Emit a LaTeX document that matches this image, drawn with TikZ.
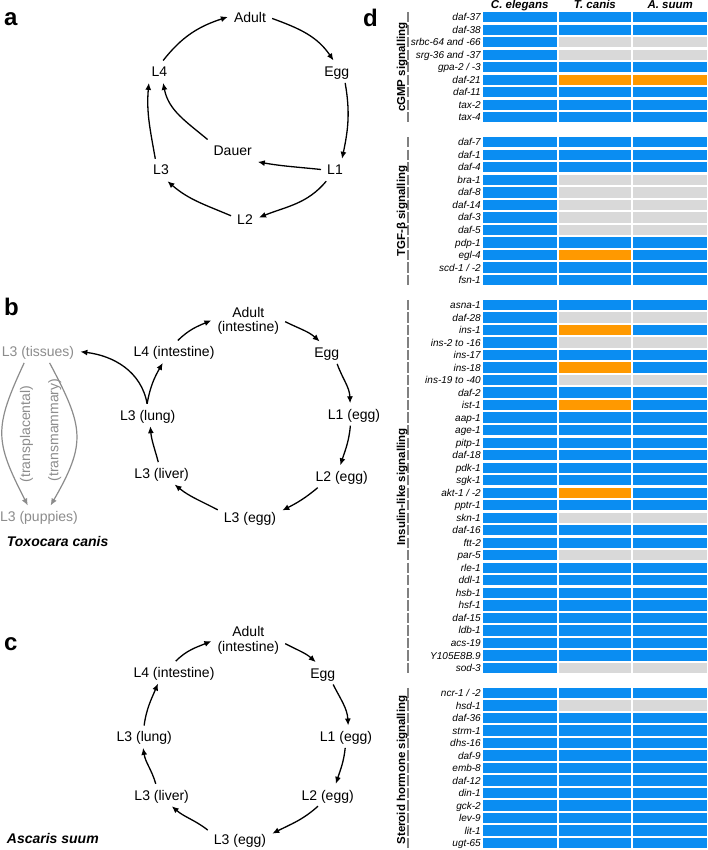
\documentclass[tikz,border=0pt]{standalone}
\usepackage{fontspec}
\setmainfont{Liberation Sans}
\usetikzlibrary{arrows.meta}
\definecolor{cB}{HTML}{0A8DF2}
\definecolor{cG}{HTML}{D9D9D9}
\definecolor{cO}{HTML}{FF9900}
\definecolor{gtxt}{HTML}{8C8C8C}
\definecolor{tickc}{HTML}{808080}
\newcommand\generow[4]{%
  \pgfmathsetmacro\rtop{12+12.515*#1}%
  \fill[cB] (482.7,\rtop) rectangle (556.7,\rtop+10.3);
  \fill[c#3] (559,\rtop) rectangle (630.7,\rtop+10.3);
  \fill[c#4] (633.3,\rtop) rectangle (707,\rtop+10.3);
  \draw[tickline] (408,\rtop) -- (408,\rtop+10.3);
  \node[gene] (g#1) at (481,\rtop+5.15) {#2};
}
\begin{document}
\begin{tikzpicture}[x=1pt,y=-1pt,
  stage/.style={font=\fontsize{14}{14.4}\selectfont, inner sep=6pt, text height=10pt, text depth=0pt},
  stagetwo/.style={font=\fontsize{14}{14.4}\selectfont, inner sep=6pt, align=center},
  arr/.style={line width=1.3pt, -{Latex[length=7pt,width=6pt]}},
  garr/.style={line width=1.2pt, gtxt, -{Latex[length=7pt,width=6pt]}, looseness=1.3},
  glab/.style={font=\fontsize{14}{14.4}\selectfont, text=gtxt, rotate=90, inner sep=0pt, text height=10pt, text depth=0pt},
  species/.style={font=\fontsize{14}{14.4}\selectfont\bfseries\itshape, anchor=west, inner sep=0pt, text height=10pt, text depth=0pt},
  panel/.style={font=\fontsize{24}{24}\selectfont\bfseries, anchor=base west, inner sep=0pt},
  gene/.style={anchor=east, inner sep=0pt, font=\fontsize{10}{12}\selectfont\itshape, text height=7.2pt, text depth=0pt},
  hdr/.style={anchor=base, inner sep=0pt, font=\fontsize{11.5}{12}\selectfont\bfseries\itshape},
  grp/.style={rotate=90, inner sep=0pt, font=\fontsize{11.5}{12}\selectfont\bfseries, text height=8.3pt, text depth=0pt},
  tickline/.style={tickc, line width=1.2pt}
]
\fill[white] (0,0) rectangle (707,850);
\useasboundingbox (0,0) rectangle (707,850);

% ---------- panel letters
\node[panel] (pa) at (4,26) {a};
\node[panel] (pb) at (4,315) {b};
\node[panel] (pc) at (4,650) {c};
\node[panel] (pd) at (363,26.5) {d};

% ---------- panel a
\node[stage] (A) at (250,17.3) {Adult};
\node[stage] (E) at (336.7,71.7) {Egg};
\node[stage] (L1) at (335,170) {L1};
\node[stage] (L2) at (245,219) {L2};
\node[stage] (L3) at (161,170) {L3};
\node[stage] (L4) at (159.3,71.7) {L4};
\node[stage] (D) at (232.7,150.7) {Dauer};
\draw[arr] (L4.71) to[out=52,in=198] (A.179);
\draw[arr] (A.-3) to[out=-20,in=124] (E.106);
\draw[arr] (E.-53) to[out=-80,in=78] (L1.58);
\draw[arr] (L1.-128) to[out=-130,in=22] (L2.6);
\draw[arr] (L2.167) to[out=157,in=-41] (L3.-60);
\draw[arr] (L3.117) to[out=100,in=-95] (L4.-133);
\draw[arr] (D.156) to[out=140,in=-79] (L4.-71);
\draw[arr] (L1.178) to[out=174,in=-10] (D.-24);

% ---------- panel b
\node[stagetwo] (AB) at (248.3,321) {Adult\\(intestine)};
\node[stage] (EB) at (326.7,352.7) {Egg};
\node[stage] (L1B) at (354,414.5) {L1 (egg)};
\node[stage] (L2B) at (341.7,476.5) {L2 (egg)};
\node[stage] (L3eB) at (250,517.3) {L3 (egg)};
\node[stage] (L3vB) at (161.7,473.3) {L3 (liver)};
\node[stage] (L3uB) at (147.7,415) {L3 (lung)};
\node[stage] (L4B) at (174,351.7) {L4 (intestine)};
\node[stage,text=gtxt] (TiB) at (38,351.7) {L3 (tissues)};
\node[stage,text=gtxt] (PuB) at (39,516.7) {L3 (puppies)};
\node[glab] (tpl) at (25,434) {(transplacental)};
\node[glab] (tmm) at (53.3,430) {(transmammary)};
\node[species] (tox) at (6.7,541.7) {Toxocara canis};
\draw[arr] (L4B.71) to[out=45,in=203] (AB.179);
\draw[arr] (AB.-1) to[out=-27,in=138] (EB.122);
\draw[arr] (EB.-47) to[out=-70,in=92] (L1B.109);
\draw[arr] (L1B.-108) to[out=-95,in=72] (L2B.97);
\draw[arr] (L2B.-155) to[out=-140,in=27] (L3eB.12);
\draw[arr] (L3eB.167) to[out=152,in=-39] (L3vB.-41);
\draw[arr] (L3vB.107) to[out=105,in=-85] (L3uB.-77);
\draw[arr] (L3uB.93) to[out=80,in=-120] (L4B.-135);
\draw[arr] (L3uB.93) to[out=100,in=-7] (TiB.0);
\draw[garr] (TiB.-141) to[out=-115,in=117] (PuB.135);
\draw[garr] (TiB.-44) to[out=-62,in=60] (PuB.44);

% ---------- panel c
\node[stagetwo] (AC) at (248.3,640.4) {Adult\\(intestine)};
\node[stage] (EC) at (322.7,673.3) {Egg};
\node[stage] (L1C) at (346,736.7) {L1 (egg)};
\node[stage] (L2C) at (327.7,795) {L2 (egg)};
\node[stage] (L3eC) at (240,839.3) {L3 (egg)};
\node[stage] (L3vC) at (161.7,795) {L3 (liver)};
\node[stage] (L3uC) at (144.3,736.7) {L3 (lung)};
\node[stage] (L4C) at (174,672.3) {L4 (intestine)};
\node[species] (asc) at (6.7,838.3) {Ascaris suum};
\draw[arr] (L4C.81) to[out=45,in=203] (AC.181);
\draw[arr] (AC.-5) to[out=-28,in=138] (EC.122);
\draw[arr] (EC.-47) to[out=-63,in=93] (L1C.79);
\draw[arr] (L1C.-94) to[out=-96,in=72] (L2C.54);
\draw[arr] (L2C.-131) to[out=-138,in=27] (L3eC.10);
\draw[arr] (L3eC.164) to[out=142,in=-41] (L3vC.-48);
\draw[arr] (L3vC.118) to[out=106,in=-81] (L3uC.-96);
\draw[arr] (L3uC.91) to[out=82,in=-113] (L4C.-145);

% ---------- panel d
\node[hdr] (h1) at (519.7,8.3) {C. elegans};
\node[hdr] (h2) at (594.9,8.3) {T. canis};
\node[hdr] (h3) at (670.2,8.3) {A. suum};

\generow{0}{daf-37}{B}{B}
\generow{1}{daf-38}{B}{B}
\generow{2}{srbc-64 and -66}{G}{G}
\generow{3}{srg-36 and -37}{G}{G}
\generow{4}{gpa-2 / -3}{B}{B}
\generow{5}{daf-21}{O}{O}
\generow{6}{daf-11}{B}{B}
\generow{7}{tax-2}{B}{B}
\generow{8}{tax-4}{B}{B}

\generow{10}{daf-7}{B}{B}
\generow{11}{daf-1}{B}{B}
\generow{12}{daf-4}{B}{B}
\generow{13}{bra-1}{G}{G}
\generow{14}{daf-8}{G}{G}
\generow{15}{daf-14}{G}{G}
\generow{16}{daf-3}{G}{G}
\generow{17}{daf-5}{G}{G}
\generow{18}{pdp-1}{B}{B}
\generow{19}{egl-4}{O}{B}
\generow{20}{scd-1 / -2}{B}{B}
\generow{21}{fsn-1}{B}{B}

\generow{23}{asna-1}{B}{B}
\generow{24}{daf-28}{G}{G}
\generow{25}{ins-1}{O}{B}
\generow{26}{ins-2 to -16}{G}{G}
\generow{27}{ins-17}{B}{B}
\generow{28}{ins-18}{O}{B}
\generow{29}{ins-19 to -40}{G}{G}
\generow{30}{daf-2}{B}{B}
\generow{31}{ist-1}{O}{B}
\generow{32}{aap-1}{B}{B}
\generow{33}{age-1}{B}{B}
\generow{34}{pitp-1}{B}{B}
\generow{35}{daf-18}{B}{B}
\generow{36}{pdk-1}{B}{B}
\generow{37}{sgk-1}{B}{B}
\generow{38}{akt-1 / -2}{O}{B}
\generow{39}{pptr-1}{B}{B}
\generow{40}{skn-1}{G}{G}
\generow{41}{daf-16}{B}{B}
\generow{42}{ftt-2}{B}{B}
\generow{43}{par-5}{G}{G}
\generow{44}{rle-1}{B}{B}
\generow{45}{ddl-1}{B}{B}
\generow{46}{hsb-1}{B}{B}
\generow{47}{hsf-1}{B}{B}
\generow{48}{daf-15}{B}{B}
\generow{49}{ldb-1}{B}{B}
\generow{50}{acs-19}{B}{B}
\generow{51}{Y105E8B.9}{B}{B}
\generow{52}{sod-3}{G}{G}

\generow{54}{ncr-1 / -2}{B}{B}
\generow{55}{hsd-1}{G}{G}
\generow{56}{daf-36}{B}{B}
\generow{57}{strm-1}{B}{B}
\generow{58}{dhs-16}{B}{B}
\generow{59}{daf-9}{B}{B}
\generow{60}{emb-8}{B}{B}
\generow{61}{daf-12}{B}{B}
\generow{62}{din-1}{B}{B}
\generow{63}{gck-2}{B}{B}
\generow{64}{lev-9}{B}{B}
\generow{65}{lit-1}{B}{B}
\generow{66}{ugt-65}{B}{B}

\node[grp] (gc) at (401,67.2) {cGMP signalling};
\node[grp] (gt) at (401,211.1) {TGF-β signalling};
\node[grp] (gi) at (401,486.8) {Insulin-like signalling};
\node[grp] (gs) at (401,770) {Steroid hormone signalling};
\end{tikzpicture}
\end{document}
